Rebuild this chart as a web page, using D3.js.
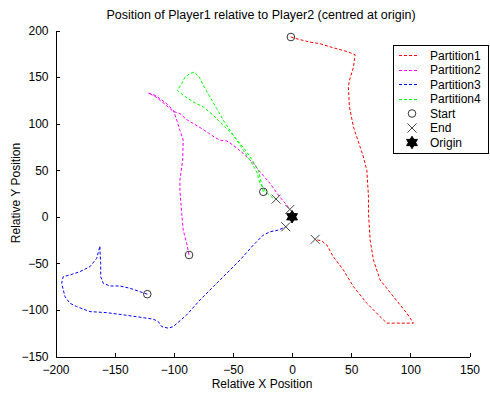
<!DOCTYPE html>
<html><head><meta charset="utf-8">
<script src="https://cdn.jsdelivr.net/npm/d3@7"></script>
<style>body{margin:0;background:#fff;} svg{display:block;} text{font-family:"Liberation Sans",Arial,sans-serif;}</style>
</head><body>
<svg id="chart" width="490" height="394"></svg>
<script>
const seriesNames = ["Partition1","Partition2","Partition3","Partition4"];
const seriesColors = ["#ff0000","#ff00ff","#0000ff","#00ff00"];
const xTicks = [-200,-150,-100,-50,0,50,100,150];
const yTicks = [-150,-100,-50,0,50,100,150,200];

const partition1 = [[-1,193],[4.2,191],[15.2,187.5],[23.7,185.8],[34.7,181.5],[46.3,177.5],[53.3,174],[51.9,160.7],[48.5,146.5],[47.6,139.3],[48.5,117.9],[51.9,96.4],[56.1,80.4],[60.3,64.3],[63.2,50],[64.6,21.4],[64.6,3.6],[66,-25],[68.8,-46.4],[74.4,-67.8],[85.7,-85.7],[97,-103.5],[102.6,-114.2],[80.1,-114.2],[74.4,-107.2],[63.2,-92.8],[51.9,-75],[43.4,-57.1],[34.9,-42.9],[29.4,-30.3],[25.1,-26],[19.5,-24.2]];
const partition2 = [[-87.1,-41],[-89.1,-28.5],[-92,-14.3],[-93.3,3.6],[-94.8,28.6],[-94.8,39.3],[-92.5,60.8],[-92,82.2],[-94.8,92.9],[-97.5,103.6],[-100.4,114.3],[-106,121.5],[-111.7,126.9],[-115.9,130.4],[-121.6,132.9],[-115.9,129.3],[-107.4,120.8],[-100.7,113.3],[-94.8,110.8],[-89.1,104.4],[-83.5,100.1],[-76.4,94.7],[-70.8,90],[-65.1,85.1],[-60.9,82.2],[-55.2,81.4],[-49.7,76.8],[-41.2,67.9],[-32.7,57.2],[-27.1,48.2],[-18.6,35.8],[-11.6,23.3],[-4.5,12.5],[-1.9,7.9]];
const partition3 = [[-122.4,-83.1],[-128.6,-80.4],[-137.1,-76.7],[-145.5,-74.3],[-154,-74.3],[-159.6,-71.4],[-161.8,-64.3],[-161.8,-50],[-162.4,-35.7],[-162.4,-31.4],[-165.2,-44.6],[-170.9,-53.6],[-179.4,-58.9],[-187.8,-62.5],[-193.5,-64.3],[-194.8,-71.4],[-192,-85.7],[-187.8,-92.8],[-182.1,-96.4],[-170.9,-101.8],[-156.8,-102.9],[-142.7,-105.3],[-128.6,-107.8],[-117.3,-109.9],[-113.1,-112.5],[-110.2,-117.9],[-104.7,-119.6],[-100.4,-117.9],[-89.1,-105.3],[-77.8,-89.3],[-66.6,-75],[-55.2,-60.6],[-44,-46.4],[-32.7,-30.3],[-24.3,-19.6],[-18.6,-16.1],[-11.6,-14.3],[-5.3,-10.7]];
const partition4 = [[-24.3,26.8],[-28.5,50],[-32.7,58.9],[-38.3,69.6],[-44,78.6],[-49.7,87.5],[-55.2,94.7],[-60.9,101.8],[-66.6,109],[-75,117.9],[-83.5,123.2],[-92,130.4],[-97,135.8],[-93.3,142.9],[-90.5,150],[-86.3,153.7],[-82.7,155.4],[-78.4,150],[-75,141.1],[-69.4,128.6],[-63.7,116.2],[-58.1,103.6],[-52.5,92.9],[-46.8,82.2],[-41.2,71.4],[-35.5,60.7],[-29.9,48.2],[-27.1,35.8],[-22,26.5],[-16.1,20],[-13.5,19]];
const series = [partition1, partition2, partition3, partition4];
const origin = [0,0];

const svg = d3.select("#chart");
const x = d3.scaleLinear().domain([-200,150]).range([55.5,469.5]);
const y = d3.scaleLinear().domain([-150,200]).range([356.5,30.5]);
const FS = "12px";

// axes
const xAxis = d3.axisBottom(x).tickValues(xTicks).tickSizeInner(-4).tickSizeOuter(0).tickPadding(8);
const yAxis = d3.axisLeft(y).tickValues(yTicks).tickSizeInner(-4).tickSizeOuter(0).tickPadding(7);
const gx = svg.append("g").attr("transform","translate(0,356.5)").call(xAxis);
const gy = svg.append("g").attr("transform","translate(55.5,0)").call(yAxis);
[gx,gy].forEach(g=>{
  g.select(".domain").attr("stroke","#000").attr("shape-rendering","crispEdges");
  g.selectAll(".tick line").attr("stroke","#000").attr("shape-rendering","crispEdges");
  g.selectAll(".tick text").attr("font-size",FS).attr("fill","#000").attr("font-family","Liberation Sans, Arial, sans-serif");
});
gx.selectAll(".tick text").attr("dy","0.8em");

// lines
const line = d3.line().x(d=>x(d[0])).y(d=>y(d[1]));
series.forEach((s,i)=>{
  svg.append("path").datum(s).attr("d",line).attr("fill","none")
    .attr("stroke",seriesColors[i]).attr("stroke-width",1).attr("stroke-dasharray","3,2");
});

// markers
const hexagram = {draw(ctx,size){
  const r = Math.sqrt(size)/1.6;
  for (let t=0;t<2;t++){
    for (let k=0;k<3;k++){
      const a = (t*Math.PI/3) + k*2*Math.PI/3 - Math.PI/2;
      const px = r*Math.cos(a), py = r*Math.sin(a);
      if(k===0) ctx.moveTo(px,py); else ctx.lineTo(px,py);
    }
    ctx.closePath();
  }
}};
function drawStart(g,cx,cy){ g.append("circle").attr("cx",cx).attr("cy",cy).attr("r",3.8).attr("fill","none").attr("stroke","#333").attr("stroke-width",1); }
function drawEnd(g,cx,cy){ const s=4.5; g.append("path").attr("d",`M${cx-s},${cy-s}L${cx+s},${cy+s}M${cx-s},${cy+s}L${cx+s},${cy-s}`).attr("stroke","#444").attr("stroke-width",1).attr("fill","none"); }
function drawOrigin(g,cx,cy){ g.append("path").attr("d",d3.symbol().type(hexagram).size(100)()).attr("transform",`translate(${cx},${cy})`).attr("fill","#000").attr("stroke","#000").attr("fill-rule","nonzero"); }

const mk = svg.append("g");
series.forEach(s=>{
  drawStart(mk, x(s[0][0]), y(s[0][1]));
  const e = s[s.length-1];
  drawEnd(mk, x(e[0]), y(e[1]));
});
drawOrigin(mk, x(origin[0]), y(origin[1]));

// titles
svg.append("text").attr("x",261).attr("y",19).attr("text-anchor","middle").attr("font-size","12.5px").text("Position of Player1 relative to Player2 (centred at origin)");
svg.append("text").attr("x",262).attr("y",388).attr("text-anchor","middle").attr("font-size",FS).text("Relative X Position");
svg.append("text").attr("transform","translate(20,193) rotate(-90)").attr("text-anchor","middle").attr("font-size",FS).text("Relative Y Position");

// legend
const lg = svg.append("g");
lg.append("rect").attr("x",393.5).attr("y",45.5).attr("width",95).attr("height",107.5).attr("fill","#fff").attr("stroke","#000").attr("stroke-width",1).attr("shape-rendering","crispEdges");
const ly = i => 55.5 + i*14.5;
seriesNames.forEach((n,i)=>{
  lg.append("line").attr("x1",399).attr("x2",419).attr("y1",Math.floor(ly(i))+0.5).attr("y2",Math.floor(ly(i))+0.5).attr("stroke",seriesColors[i]).attr("stroke-dasharray","3,2");
  lg.append("text").attr("x",430).attr("y",ly(i)).attr("dy","0.35em").attr("font-size",FS).text(n);
});
const extra = ["Start","End","Origin"];
drawStart(lg,412,ly(4)); drawEnd(lg,412,ly(5)); drawOrigin(lg,412,ly(6));
extra.forEach((n,j)=>{
  lg.append("text").attr("x",430).attr("y",ly(4+j)).attr("dy","0.35em").attr("font-size",FS).text(n);
});
</script>
</body></html>
